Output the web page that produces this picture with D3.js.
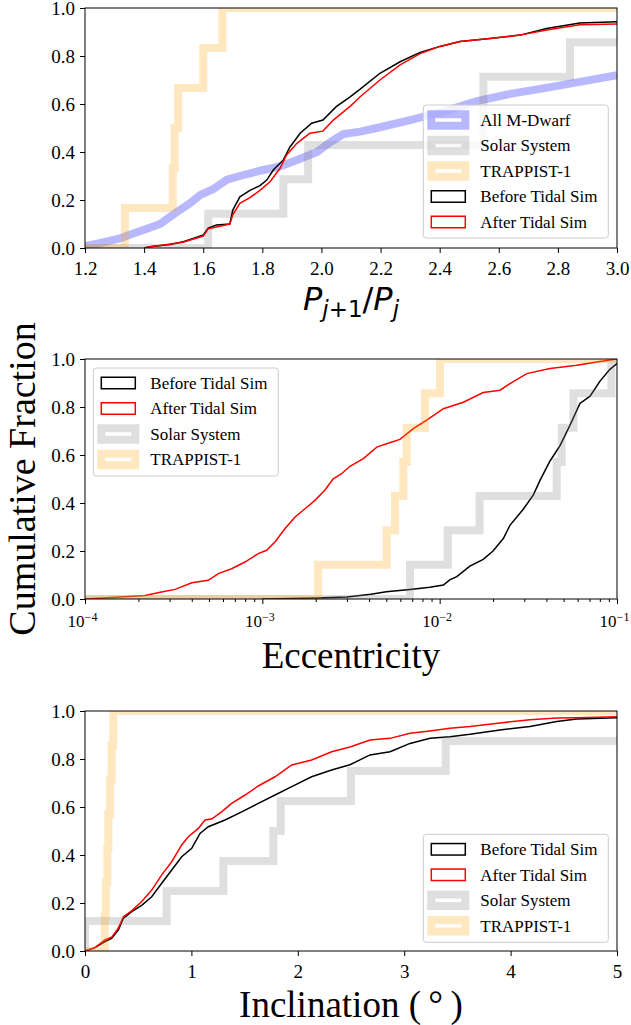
<!DOCTYPE html>
<html>
<head>
<meta charset="utf-8">
<script src="https://cdn.jsdelivr.net/npm/d3@7"></script>
<style>
    body { margin: 0; background: #fff; }
</style>
</head>
<body>
<div id="canvas"></div>
<script>
"use strict"

let svgWidth = 631
let svgHeight = 1025
let leftMargin = 85
let plotWidth = 532
let plotHeight = 240
let panelTops = [8, 359, 711]
let serif = "'Liberation Serif', 'Times New Roman', serif"

/* tick values */
let fractionTicks = [0, 0.2, 0.4, 0.6, 0.8, 1.0]
let ratioTicks = [1.2, 1.4, 1.6, 1.8, 2.0, 2.2, 2.4, 2.6, 2.8, 3.0]
let eccTicks = [1e-4, 1e-3, 1e-2, 1e-1]
let eccExponents = ["\u22124", "\u22123", "\u22122", "\u22121"]
let eccMinorTicks = [2e-4, 3e-4, 4e-4, 5e-4, 6e-4, 7e-4, 8e-4, 9e-4,
    2e-3, 3e-3, 4e-3, 5e-3, 6e-3, 7e-3, 8e-3, 9e-3,
    2e-2, 3e-2, 4e-2, 5e-2, 6e-2, 7e-2, 8e-2, 9e-2]
let incTicks = [0, 1, 2, 3, 4, 5]

/* panel 1: period ratio P(j+1)/P(j), [value, cumulative fraction] */
let mdwarfRatio = [[1.2, 0.008], [1.25, 0.02], [1.318, 0.04], [1.363, 0.06], [1.41, 0.08], [1.454, 0.10],
    [1.488, 0.13], [1.521, 0.158], [1.555, 0.186], [1.589, 0.22], [1.633, 0.245], [1.68, 0.285],
    [1.724, 0.30], [1.792, 0.322], [1.86, 0.34], [1.928, 0.372], [1.985, 0.40], [2.029, 0.44],
    [2.074, 0.475], [2.131, 0.485], [2.187, 0.50], [2.3, 0.533], [2.412, 0.568], [2.526, 0.612],
    [2.638, 0.642], [2.75, 0.665], [2.865, 0.69], [3.0, 0.72]]
let beforeRatio = [[1.40, 0], [1.42, 0.005], [1.488, 0.015], [1.532, 0.026], [1.566, 0.04], [1.60, 0.054],
    [1.617, 0.083], [1.645, 0.096], [1.69, 0.10], [1.70, 0.158], [1.724, 0.213], [1.758, 0.24],
    [1.792, 0.26], [1.815, 0.283], [1.837, 0.325], [1.871, 0.367], [1.893, 0.42], [1.928, 0.478],
    [1.967, 0.52], [2.005, 0.533], [2.05, 0.589], [2.097, 0.63], [2.131, 0.662], [2.198, 0.728],
    [2.266, 0.776], [2.334, 0.815], [2.401, 0.84], [2.469, 0.86], [2.57, 0.873], [2.672, 0.887],
    [2.762, 0.915], [2.874, 0.937], [3.0, 0.943]]
let afterRatio = [[1.40, 0], [1.42, 0.005], [1.532, 0.024], [1.60, 0.05], [1.617, 0.08], [1.69, 0.10],
    [1.70, 0.138], [1.724, 0.186], [1.758, 0.21], [1.792, 0.24], [1.826, 0.276], [1.86, 0.332],
    [1.882, 0.388], [1.917, 0.436], [1.961, 0.478], [2.005, 0.487], [2.04, 0.533], [2.097, 0.59],
    [2.131, 0.63], [2.198, 0.70], [2.266, 0.763], [2.334, 0.81], [2.401, 0.84], [2.469, 0.86],
    [2.57, 0.873], [2.672, 0.887], [2.762, 0.908], [2.874, 0.93], [3.0, 0.933]]
let solarRatioSteps = [1.617, 1.871, 1.955, 2.548, 2.548, 2.841]
let solarRatioLevels = [0.143, 0.286, 0.429, 0.571, 0.714, 0.857]
let trappistRatioSteps = [1.335, 1.497, 1.503, 1.515, 1.600, 1.665]
let trappistRatioLevels = [0.167, 0.333, 0.5, 0.667, 0.833, 1.0]

/* panel 2: eccentricity */
let beforeEcc = [[0.0010, 0], [0.0020, 0.004], [0.0030, 0.008], [0.0041, 0.02], [0.0050, 0.03],
    [0.0068, 0.04], [0.0088, 0.049], [0.0105, 0.058], [0.0114, 0.08], [0.0125, 0.093], [0.0148, 0.137],
    [0.0176, 0.165], [0.0200, 0.20], [0.0229, 0.253], [0.0249, 0.307], [0.0296, 0.374], [0.0337, 0.433],
    [0.0368, 0.494], [0.0419, 0.575], [0.0478, 0.64], [0.0543, 0.724], [0.0618, 0.815], [0.0705, 0.845],
    [0.0802, 0.908], [0.0912, 0.957], [0.100, 0.981]]
let afterEcc = [[0.0001, 0], [0.00015, 0.007], [0.000218, 0.015], [0.00027, 0.029], [0.000322, 0.04],
    [0.0004, 0.068], [0.000495, 0.078], [0.000565, 0.106], [0.000671, 0.126], [0.000798, 0.154],
    [0.000948, 0.189], [0.001057, 0.203], [0.001178, 0.2375], [0.00134, 0.293], [0.00153, 0.342],
    [0.00174, 0.376], [0.00198, 0.411], [0.00225, 0.453], [0.00251, 0.501], [0.0028, 0.522],
    [0.00312, 0.553], [0.00371, 0.585], [0.00442, 0.633], [0.00502, 0.647], [0.00597, 0.665],
    [0.0071, 0.71], [0.00845, 0.745], [0.0105, 0.793], [0.0136, 0.82], [0.0176, 0.86], [0.0219, 0.87],
    [0.0249, 0.897], [0.031, 0.939], [0.0419, 0.96], [0.0593, 0.974], [0.0769, 0.9875], [0.1, 1.0]]
let solarEccSteps = [0.0068, 0.0111, 0.0168, 0.0457, 0.0488, 0.0568, 0.093]
let solarEccLevels = [0.143, 0.286, 0.429, 0.571, 0.714, 0.857, 1.0]
let trappistEccSteps = [0.00206, 0.00502, 0.0056, 0.00624, 0.00652, 0.00826, 0.01005]
let trappistEccLevels = [0.143, 0.286, 0.429, 0.571, 0.714, 0.857, 1.0]

/* panel 3: inclination (degrees) */
let beforeInc = [[0, 0], [0.094, 0.014], [0.188, 0.039], [0.25, 0.053], [0.313, 0.0875], [0.36, 0.136],
    [0.439, 0.164], [0.533, 0.19], [0.627, 0.226], [0.721, 0.282], [0.815, 0.3375], [0.909, 0.393],
    [1.003, 0.428], [1.081, 0.49], [1.159, 0.518], [1.316, 0.546], [1.473, 0.58], [1.629, 0.615],
    [1.786, 0.65], [1.943, 0.685], [2.13, 0.726], [2.318, 0.754], [2.49, 0.776], [2.679, 0.817],
    [2.867, 0.83], [3.055, 0.865], [3.242, 0.886], [3.43, 0.893], [3.618, 0.903], [3.9, 0.921],
    [4.182, 0.935], [4.433, 0.956], [4.621, 0.967], [5.0, 0.972]]
let afterInc = [[0, 0], [0.094, 0.014], [0.188, 0.046], [0.25, 0.057], [0.313, 0.095], [0.36, 0.143],
    [0.439, 0.167], [0.533, 0.206], [0.627, 0.254], [0.721, 0.317], [0.815, 0.372], [0.909, 0.442],
    [0.971, 0.476], [1.065, 0.511], [1.128, 0.546], [1.19, 0.55], [1.284, 0.58], [1.378, 0.615],
    [1.504, 0.65], [1.629, 0.6875], [1.786, 0.726], [1.943, 0.775], [2.13, 0.796], [2.318, 0.83],
    [2.49, 0.85], [2.679, 0.879], [2.867, 0.886], [3.055, 0.907], [3.242, 0.917], [3.43, 0.928],
    [3.618, 0.935], [3.9, 0.95], [4.182, 0.964], [4.433, 0.971], [4.621, 0.972], [5.0, 0.976]]
let solarIncSteps = [0, 0.767, 1.30, 1.77, 1.84, 2.50, 3.39, 7.0]
let solarIncLevels = [0.125, 0.25, 0.375, 0.5, 0.625, 0.75, 0.875, 1.0]
let trappistIncSteps = [0.185, 0.195, 0.21, 0.22, 0.235, 0.25, 0.265]
let trappistIncLevels = [0.143, 0.286, 0.429, 0.571, 0.714, 0.857, 1.0]

/* how each kind of curve is drawn */
let styles = {
    mdwarf: { color: "blue", opacity: 0.28, width: 8, label: "All M-Dwarf" },
    solar: { color: "gray", opacity: 0.25, width: 8, label: "Solar System" },
    trappist: { color: "orange", opacity: 0.25, width: 8, label: "TRAPPIST-1" },
    before: { color: "black", opacity: 1, width: 1.5, label: "Before Tidal Sim" },
    after: { color: "red", opacity: 1, width: 1.5, label: "After Tidal Sim" }
}

let svg = d3.select("#canvas")
    .append("svg")
    .attr("width", svgWidth)
    .attr("height", svgHeight)

/* turns step positions + levels into a cumulative step path */
function stepPoints(start, end, steps, levels) {
    let pts = [[start, 0]]
    steps.forEach(function (s, i) {
        pts.push([s, levels[i]])
    })
    pts.push([Math.max(end, steps[steps.length - 1]), levels[levels.length - 1]])
    return pts
}

function drawPanel(index, xScale, series, xAxisFn) {
    let top = panelTops[index]
    let yScale = d3.scaleLinear().domain([0, 1]).range([plotHeight, 0])
    let g = svg.append("g").attr("transform", `translate(${leftMargin},${top})`)

    g.append("clipPath").attr("id", "clip" + index)
        .append("rect").attr("width", plotWidth).attr("height", plotHeight)

    let lines = g.append("g").attr("clip-path", `url(#clip${index})`)
    series.forEach(function (s) {
        let st = styles[s.key]
        let line = d3.line()
            .x(d => xScale(d[0]))
            .y(d => yScale(d[1]))
            .curve(s.step ? d3.curveStepAfter : d3.curveLinear)
        lines.append("path")
            .attr("d", line(s.points))
            .attr("fill", "none")
            .attr("stroke", st.color)
            .attr("stroke-opacity", st.opacity)
            .attr("stroke-width", st.width)
            .attr("stroke-linejoin", "miter")
    })

    let yAxis = g.append("g")
        .call(d3.axisLeft(yScale).tickValues(fractionTicks).tickFormat(d3.format(".1f"))
            .tickSize(5).tickSizeOuter(0).tickPadding(5))
    yAxis.select(".domain").remove()
    yAxis.attr("font-family", serif).attr("font-size", 19)

    let xAxis = g.append("g").attr("transform", `translate(0,${plotHeight})`)
    xAxisFn(xAxis)
    xAxis.selectAll(".domain").remove()

    g.append("rect")
        .attr("width", plotWidth)
        .attr("height", plotHeight)
        .attr("fill", "none")
        .attr("stroke", "black")
        .attr("stroke-width", 1)
    return g
}

function drawLegend(keys, boxX, boxY, boxH) {
    svg.append("rect")
        .attr("x", boxX).attr("y", boxY)
        .attr("width", 185).attr("height", boxH)
        .attr("rx", 3)
        .attr("fill", "white").attr("fill-opacity", 0.8)
        .attr("stroke", "#cccccc")
    keys.forEach(function (k, i) {
        let st = styles[k]
        let cy = boxY + 15 + i * 25.5
        svg.append("rect")
            .attr("x", boxX + 8).attr("y", cy - 5.75)
            .attr("width", 34).attr("height", 11.5)
            .attr("fill", "none")
            .attr("stroke", st.color)
            .attr("stroke-opacity", st.opacity)
            .attr("stroke-width", st.width)
        svg.append("text")
            .attr("x", boxX + 57).attr("y", cy)
            .attr("dy", "0.35em")
            .style("font-family", serif)
            .style("font-size", "17px")
            .text(st.label)
    })
}

/* ---- panel 1 ---- */
let ratioScale = d3.scaleLinear().domain([1.2, 3.0]).range([0, plotWidth])
drawPanel(0, ratioScale, [
    { key: "mdwarf", points: mdwarfRatio },
    { key: "solar", points: stepPoints(1.2, 3.0, solarRatioSteps, solarRatioLevels), step: true },
    { key: "trappist", points: stepPoints(1.2, 3.0, trappistRatioSteps, trappistRatioLevels), step: true },
    { key: "before", points: beforeRatio },
    { key: "after", points: afterRatio }
], function (a) {
    a.call(d3.axisBottom(ratioScale).tickValues(ratioTicks).tickFormat(d3.format(".1f"))
        .tickSize(5).tickSizeOuter(0).tickPadding(9))
        .attr("font-family", serif).attr("font-size", 19)
})
drawLegend(["mdwarf", "solar", "trappist", "before", "after"], 423.3, 105, 133)

/* ---- panel 2 ---- */
let eccScale = d3.scaleLog().domain([1e-4, 1e-1]).range([0, plotWidth])
drawPanel(1, eccScale, [
    { key: "before", points: beforeEcc },
    { key: "after", points: afterEcc },
    { key: "solar", points: stepPoints(1e-4, 1e-1, solarEccSteps, solarEccLevels), step: true },
    { key: "trappist", points: stepPoints(1e-4, 1e-1, trappistEccSteps, trappistEccLevels), step: true }
], function (a) {
    a.append("g").call(d3.axisBottom(eccScale).tickValues(eccMinorTicks).tickFormat("")
        .tickSize(3).tickSizeOuter(0))
    let major = a.append("g").call(d3.axisBottom(eccScale).tickValues(eccTicks).tickFormat("")
        .tickSize(5).tickSizeOuter(0).tickPadding(11))
        .attr("font-family", serif).attr("font-size", 17)
    major.selectAll(".tick text").each(function (d, i) {
        let t = d3.select(this).attr("x", -3)
        t.append("tspan").text("10")
        t.append("tspan").attr("dy", -6).style("font-size", "12px").text(eccExponents[i])
    })
})
drawLegend(["before", "after", "solar", "trappist"], 93.3, 368, 108)

/* ---- panel 3 ---- */
let incScale = d3.scaleLinear().domain([0, 5]).range([0, plotWidth])
drawPanel(2, incScale, [
    { key: "before", points: beforeInc },
    { key: "after", points: afterInc },
    { key: "solar", points: stepPoints(0, 5, solarIncSteps, solarIncLevels), step: true },
    { key: "trappist", points: stepPoints(0, 5, trappistIncSteps, trappistIncLevels), step: true }
], function (a) {
    a.call(d3.axisBottom(incScale).tickValues(incTicks).tickFormat(d3.format("d"))
        .tickSize(5).tickSizeOuter(0).tickPadding(9))
        .attr("font-family", serif).attr("font-size", 19)
})
drawLegend(["before", "after", "solar", "trappist"], 423.3, 834.3, 108)

/* ---- axis labels ---- */
let centerX = leftMargin + plotWidth / 2

let pLabel = svg.append("text")
    .attr("x", centerX).attr("y", 310)
    .attr("text-anchor", "middle")
    .style("font-family", "'DejaVu Sans', sans-serif")
    .style("font-size", "32px")
pLabel.append("tspan").style("font-style", "italic").text("P")
pLabel.append("tspan").style("font-style", "italic").style("font-size", "23px").attr("dy", 7).text("j")
pLabel.append("tspan").style("font-size", "23px").text("+1")
pLabel.append("tspan").attr("dy", -7).text("/")
pLabel.append("tspan").style("font-style", "italic").text("P")
pLabel.append("tspan").style("font-style", "italic").style("font-size", "23px").attr("dy", 7).text("j")

svg.append("text")
    .attr("x", centerX).attr("y", 668)
    .attr("text-anchor", "middle")
    .style("font-family", serif).style("font-size", "37px")
    .text("Eccentricity")

svg.append("text")
    .attr("x", centerX).attr("y", 1017)
    .attr("text-anchor", "middle")
    .style("font-family", serif).style("font-size", "37px")
    .text("Inclination (\u2009\u00b0\u2009)")

svg.append("text")
    .attr("transform", "translate(35,479) rotate(-90)")
    .attr("text-anchor", "middle")
    .style("font-family", serif).style("font-size", "38px")
    .text("Cumulative Fraction")
</script>
</body>
</html>
